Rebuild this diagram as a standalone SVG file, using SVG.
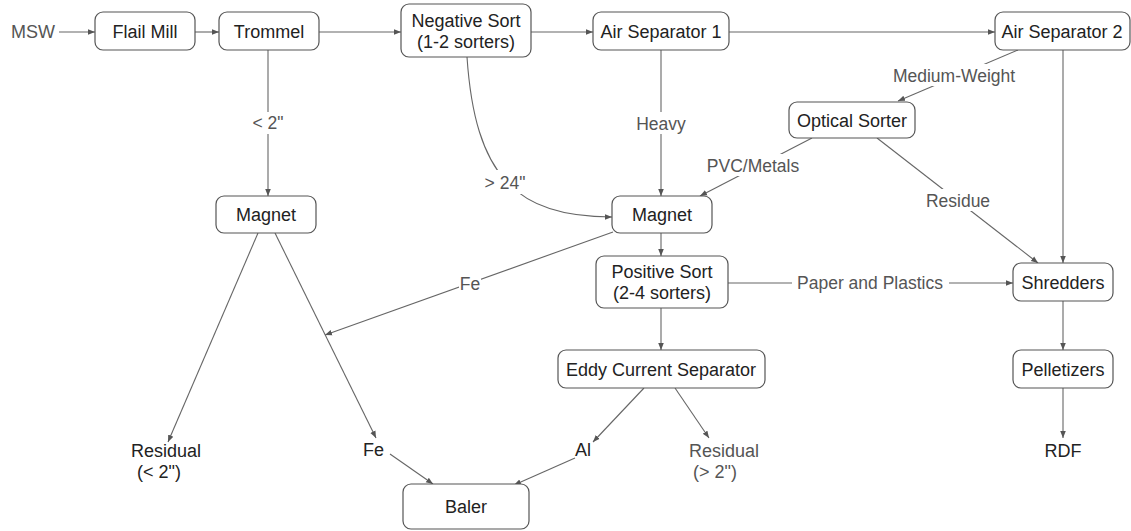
<svg xmlns="http://www.w3.org/2000/svg" width="1131" height="531" viewBox="0 0 1131 531">
<defs>
<style>
.box{fill:#fff;stroke:#555;stroke-width:1.2}
.nt{font-family:"Liberation Sans",Arial,sans-serif;font-size:18px;fill:#222;text-anchor:middle}
.lt{font-family:"Liberation Sans",Arial,sans-serif;font-size:17.5px;fill:#555;text-anchor:middle}
.tt{font-family:"Liberation Sans",Arial,sans-serif;font-size:18px;fill:#222}
.e{fill:none;stroke:#666;stroke-width:1.1;marker-end:url(#ah)}
.bg{fill:#fff}
</style>
<marker id="ah" viewBox="0 0 10 10" refX="10" refY="5" markerWidth="7" markerHeight="7" markerUnits="userSpaceOnUse" orient="auto">
<path d="M0,1 L10,5 L0,9 Z" fill="#555"/>
</marker>
</defs>
<rect width="1131" height="531" fill="#fff"/>
<g id="connectors">
<path class="e" d="M59,32 L95,32"/>
<path class="e" d="M195,32 L219,32"/>
<path class="e" d="M319,32 L401,32"/>
<path class="e" d="M531,32 L593,32"/>
<path class="e" d="M729,32 L995,32"/>
<path class="e" d="M268,50 L268,196"/>
<path class="e" d="M467,57 C475,175 515,217 612,217"/>
<path class="e" d="M661,50 L661,196"/>
<path class="e" d="M812,138 L700,196"/>
<path class="e" d="M1018,50 L898,101"/>
<path class="e" d="M877,138 L1038,263"/>
<path class="e" d="M1063,50 L1063,263"/>
<path class="e" d="M661,233 L661,256"/>
<path class="e" d="M613,232 L325,335"/>
<path class="e" d="M728,283 L1013,283"/>
<path class="e" d="M661,308 L661,350"/>
<path class="e" d="M1063,301 L1063,350"/>
<path class="e" d="M1063,388 L1063,438"/>
<path class="e" d="M258,233 L168,442"/>
<path class="e" d="M275,233 L376,438"/>
<path class="e" d="M390,454 L433,484"/>
<path class="e" d="M644,388 L593,442"/>
<path class="e" d="M575,458 L514,485"/>
<path class="e" d="M675,388 L709,438"/>
<g id="edge-labels">
<rect class="bg" x="250" y="112" width="36" height="22"/>
<text class="lt" x="268" y="129">&lt; 2"</text>
<rect class="bg" x="633" y="112" width="56" height="22"/>
<text class="lt" x="661" y="130">Heavy</text>
<rect class="bg" x="480" y="170" width="52" height="24"/>
<text class="lt" x="505" y="189">&gt; 24"</text>
<rect class="bg" x="698" y="154" width="110" height="22"/>
<text class="lt" x="753" y="172">PVC/Metals</text>
<rect class="bg" x="892" y="64" width="124" height="22"/>
<text class="lt" x="954" y="82">Medium-Weight</text>
<rect class="bg" x="922" y="189" width="72" height="22"/>
<text class="lt" x="958" y="207">Residue</text>
<rect class="bg" x="459" y="272" width="22" height="22"/>
<text class="lt" x="470" y="290">Fe</text>
<rect class="bg" x="792" y="272" width="157" height="22"/>
<text class="lt" x="870" y="289">Paper and Plastics</text>
</g>
</g>
<g id="msw"><text class="lt" x="33" y="38" style="font-size:18px">MSW</text></g>
<g id="flail-mill"><rect class="box" x="95" y="12" width="100" height="38" rx="8"/><text class="nt" x="145" y="38">Flail Mill</text></g>
<g id="trommel"><rect class="box" x="219" y="12" width="100" height="38" rx="8"/><text class="nt" x="269" y="38">Trommel</text></g>
<g id="negative-sort"><rect class="box" x="401" y="4" width="130" height="53" rx="8"/><text class="nt" x="466" y="27">Negative Sort</text><text class="nt" x="466" y="48">(1-2 sorters)</text></g>
<g id="air-sep-1"><rect class="box" x="593" y="12" width="136" height="38" rx="8"/><text class="nt" x="661" y="38">Air Separator 1</text></g>
<g id="air-sep-2"><rect class="box" x="995" y="12" width="135" height="38" rx="8"/><text class="nt" x="1062" y="38">Air Separator 2</text></g>
<g id="optical-sorter"><rect class="box" x="789" y="102" width="126" height="36" rx="8"/><text class="nt" x="852" y="127">Optical Sorter</text></g>
<g id="magnet-left"><rect class="box" x="216" y="196" width="100" height="37" rx="8"/><text class="nt" x="266" y="221">Magnet</text></g>
<g id="magnet-center"><rect class="box" x="612" y="196" width="100" height="37" rx="8"/><text class="nt" x="662" y="221">Magnet</text></g>
<g id="positive-sort"><rect class="box" x="596" y="256" width="132" height="52" rx="8"/><text class="nt" x="662" y="278">Positive Sort</text><text class="nt" x="662" y="299">(2-4 sorters)</text></g>
<g id="eddy"><rect class="box" x="558" y="350" width="207" height="38" rx="8"/><text class="nt" x="661" y="376">Eddy Current Separator</text></g>
<g id="shredders"><rect class="box" x="1013" y="263" width="100" height="38" rx="8"/><text class="nt" x="1063" y="289">Shredders</text></g>
<g id="pelletizers"><rect class="box" x="1013" y="350" width="100" height="38" rx="8"/><text class="nt" x="1063" y="376">Pelletizers</text></g>
<g id="baler"><rect class="box" x="403" y="484" width="126" height="45" rx="8"/><text class="nt" x="466" y="513">Baler</text></g>
<g id="residual-small"><text class="tt" x="131" y="457">Residual</text><text class="tt" x="137" y="478">(&lt; 2")</text></g>
<g id="fe-out"><text class="tt" x="363" y="456">Fe</text></g>
<g id="al-out"><text class="tt" x="575" y="456">Al</text></g>
<g id="residual-large"><text class="tt" x="689" y="457" style="fill:#555">Residual</text><text class="tt" x="693" y="478" style="fill:#555">(&gt; 2")</text></g>
<g id="rdf"><text class="nt" x="1063" y="457">RDF</text></g>
</svg>
